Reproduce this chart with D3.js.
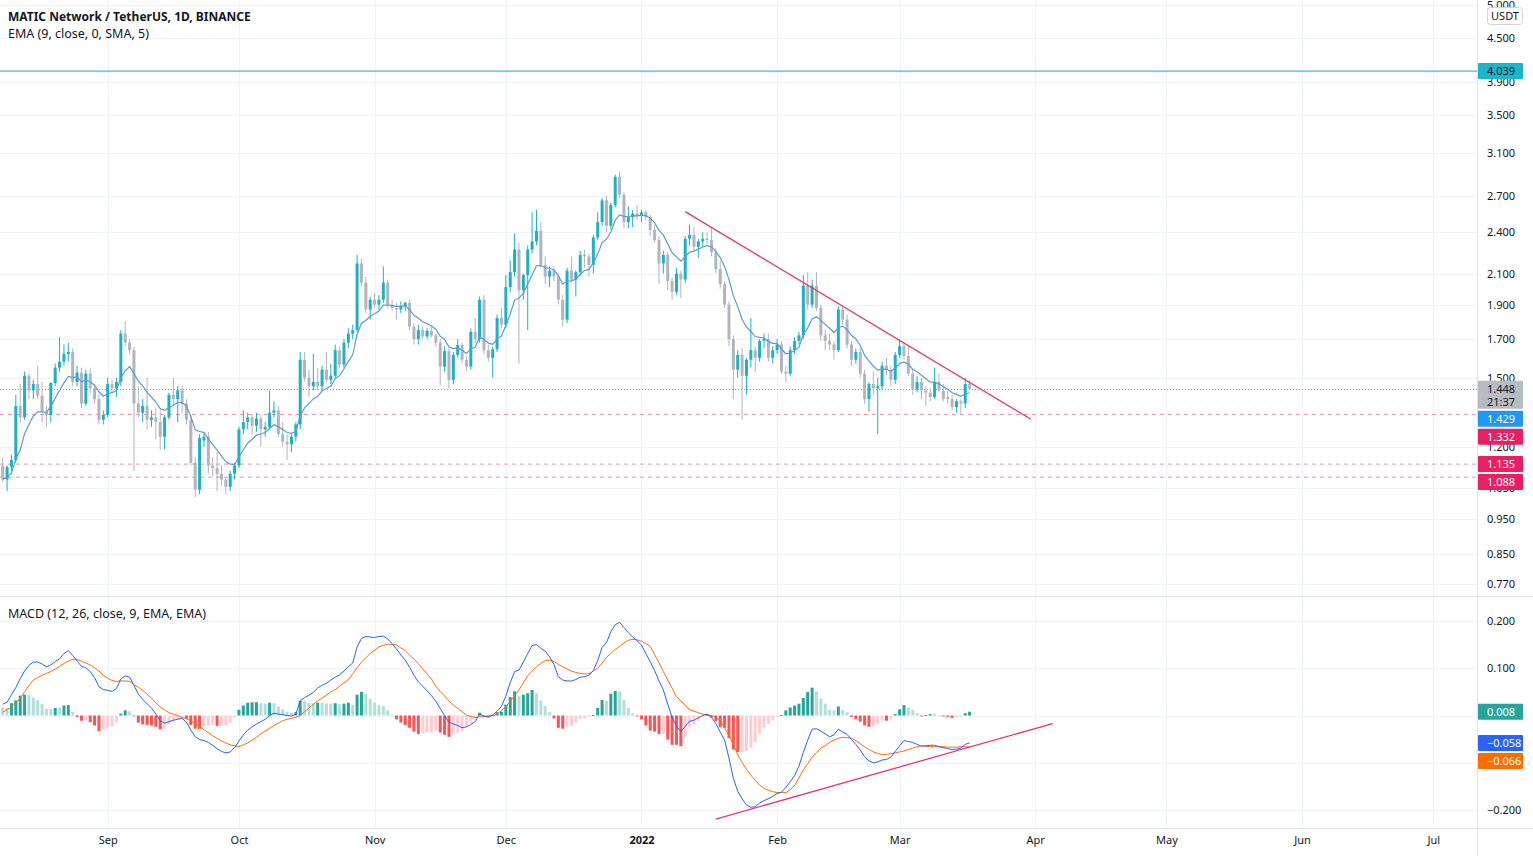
<!DOCTYPE html>
<html><head><meta charset="utf-8">
<script src="https://cdn.jsdelivr.net/npm/d3@7"></script>
<style>
html,body{margin:0;padding:0;background:#fff;overflow:hidden;}
svg{display:block;}
</style></head><body>
<svg id="chart" width="1533" height="856"></svg>
<script>
// ---------------- DATA ----------------
const startDate = "2021-08-08"; // first daily candle, one candle per day
const open = [
1.13,1.08,1.125,1.15,1.37,1.32,1.51,1.44,1.47,1.415,
1.345,1.33,1.475,1.55,1.58,1.62,1.63,1.48,1.525,1.38,
1.52,1.45,1.40,1.31,1.33,1.47,1.45,1.48,1.73,1.68,
1.64,1.38,1.34,1.37,1.31,1.32,1.30,1.24,1.32,1.42,
1.40,1.44,1.38,1.31,1.14,1.045,1.225,1.24,1.13,1.12,
1.10,1.08,1.055,1.10,1.13,1.27,1.30,1.32,1.285,1.315,
1.27,1.28,1.34,1.35,1.25,1.22,1.21,1.24,1.29,1.59,
1.50,1.46,1.48,1.46,1.54,1.49,1.51,1.64,1.565,1.68,
1.73,1.75,2.17,2.04,1.87,1.93,1.90,1.93,2.04,1.90,
1.88,1.87,1.89,1.91,1.77,1.70,1.75,1.715,1.745,1.72,
1.68,1.555,1.635,1.49,1.615,1.668,1.59,1.555,1.74,1.70,
1.93,1.64,1.60,1.645,1.82,1.78,2.01,2.11,2.27,1.99,
2.09,2.27,2.33,2.41,2.16,2.08,2.12,2.08,1.93,1.81,
2.12,2.06,2.11,2.23,2.22,2.16,2.36,2.48,2.66,2.45,
2.62,2.87,2.71,2.48,2.52,2.55,2.53,2.56,2.52,2.42,
2.34,2.17,2.23,2.05,1.98,2.10,2.06,2.35,2.38,2.29,
2.33,2.35,2.34,2.25,2.13,2.03,1.90,1.70,1.54,1.615,
1.51,1.59,1.64,1.60,1.69,1.70,1.60,1.64,1.67,1.53,
1.52,1.64,1.69,1.72,2.02,1.90,2.02,1.88,1.72,1.69,
1.67,1.64,1.87,1.81,1.67,1.59,1.63,1.52,1.40,1.47,
1.45,1.46,1.56,1.54,1.49,1.615,1.66,1.61,1.52,1.445,
1.48,1.44,1.43,1.41,1.48,1.44,1.41,1.40,1.365,1.39,
1.38,1.47];
const high = [
1.16,1.13,1.17,1.42,1.47,1.53,1.52,1.49,1.56,1.48,
1.37,1.48,1.57,1.71,1.67,1.68,1.65,1.56,1.55,1.54,
1.55,1.47,1.42,1.35,1.50,1.49,1.50,1.75,1.80,1.70,
1.66,1.46,1.40,1.50,1.35,1.36,1.35,1.33,1.43,1.50,
1.46,1.46,1.40,1.33,1.16,1.25,1.26,1.26,1.16,1.18,
1.13,1.09,1.11,1.14,1.28,1.35,1.34,1.33,1.34,1.33,
1.30,1.44,1.39,1.37,1.30,1.25,1.25,1.30,1.63,1.63,
1.54,1.62,1.55,1.56,1.63,1.57,1.67,1.66,1.70,1.76,
1.78,2.23,2.20,2.08,1.95,1.97,1.96,2.15,2.06,1.93,
1.91,1.92,1.92,1.93,1.79,1.78,1.77,1.76,1.77,1.73,
1.70,1.66,1.65,1.63,1.70,1.68,1.61,1.76,1.82,1.95,
1.96,1.67,1.66,1.84,1.88,2.09,2.19,2.39,2.32,2.10,
2.30,2.56,2.58,2.48,2.22,2.15,2.15,2.10,1.96,2.14,
2.22,2.12,2.26,2.27,2.24,2.38,2.56,2.68,2.70,2.64,
2.89,2.92,2.73,2.61,2.58,2.62,2.58,2.58,2.54,2.46,
2.37,2.26,2.25,2.07,2.14,2.12,2.37,2.46,2.44,2.35,
2.40,2.40,2.44,2.28,2.19,2.05,1.92,1.72,1.64,1.65,
1.60,1.82,1.66,1.70,1.73,1.73,1.66,1.70,1.69,1.56,
1.66,1.71,1.74,2.09,2.11,2.06,2.11,1.90,1.75,1.73,
1.69,1.89,1.89,1.84,1.69,1.65,1.65,1.54,1.48,1.53,
1.50,1.58,1.60,1.56,1.63,1.70,1.68,1.66,1.54,1.51,
1.50,1.46,1.45,1.55,1.52,1.47,1.44,1.42,1.40,1.40,
1.50,1.49];
const low = [
1.07,1.04,1.11,1.14,1.30,1.31,1.40,1.40,1.40,1.30,
1.28,1.30,1.46,1.53,1.56,1.58,1.46,1.46,1.36,1.37,
1.43,1.38,1.29,1.29,1.32,1.43,1.41,1.46,1.66,1.62,
1.11,1.32,1.30,1.27,1.28,1.23,1.19,1.19,1.31,1.37,
1.30,1.34,1.29,1.13,1.02,1.03,1.20,1.10,1.09,1.04,
1.06,1.03,1.04,1.08,1.12,1.25,1.27,1.25,1.26,1.20,
1.24,1.27,1.32,1.24,1.20,1.15,1.18,1.22,1.27,1.48,
1.41,1.44,1.44,1.44,1.48,1.47,1.50,1.55,1.55,1.65,
1.70,1.74,2.02,1.85,1.81,1.88,1.87,1.91,1.88,1.86,
1.81,1.85,1.86,1.75,1.67,1.67,1.70,1.70,1.71,1.66,
1.466,1.53,1.45,1.47,1.60,1.57,1.53,1.54,1.68,1.68,
1.62,1.58,1.50,1.63,1.76,1.76,1.98,2.08,1.57,1.93,
1.75,2.24,2.30,2.14,2.03,2.01,2.05,1.90,1.77,1.79,
2.04,1.95,2.08,2.14,2.08,2.10,2.34,2.45,2.40,2.42,
2.60,2.68,2.43,2.43,2.44,2.50,2.48,2.49,2.37,2.32,
2.03,2.10,1.99,1.93,1.96,1.94,2.04,2.30,2.26,2.21,
2.29,2.30,2.22,2.10,2.00,1.88,1.66,1.40,1.50,1.31,
1.42,1.55,1.53,1.58,1.65,1.58,1.57,1.62,1.52,1.48,
1.51,1.62,1.67,1.70,1.87,1.88,1.86,1.69,1.64,1.64,
1.59,1.63,1.78,1.65,1.56,1.57,1.50,1.38,1.345,1.42,
1.25,1.44,1.51,1.46,1.47,1.60,1.59,1.51,1.42,1.43,
1.40,1.37,1.39,1.40,1.43,1.39,1.38,1.35,1.34,1.33,
1.36,1.44];
const close = [
1.08,1.125,1.15,1.37,1.32,1.51,1.44,1.47,1.415,1.345,
1.33,1.475,1.55,1.58,1.62,1.63,1.48,1.525,1.38,1.52,
1.45,1.40,1.31,1.33,1.47,1.45,1.48,1.73,1.68,1.64,
1.38,1.34,1.37,1.31,1.32,1.30,1.24,1.32,1.42,1.40,
1.44,1.38,1.31,1.14,1.045,1.235,1.24,1.13,1.12,1.10,
1.08,1.055,1.10,1.13,1.27,1.30,1.32,1.285,1.315,1.27,
1.28,1.34,1.35,1.25,1.22,1.21,1.24,1.29,1.59,1.50,
1.46,1.48,1.46,1.54,1.49,1.51,1.64,1.565,1.68,1.73,
1.75,2.17,2.04,1.87,1.93,1.90,1.93,2.04,1.90,1.88,
1.87,1.89,1.91,1.77,1.70,1.75,1.715,1.745,1.72,1.68,
1.555,1.635,1.49,1.615,1.668,1.59,1.555,1.74,1.70,1.93,
1.64,1.60,1.645,1.82,1.78,2.01,2.11,2.27,1.99,2.09,
2.27,2.33,2.41,2.16,2.08,2.12,2.08,1.93,1.81,2.12,
2.06,2.11,2.23,2.22,2.16,2.36,2.48,2.66,2.45,2.62,
2.87,2.71,2.48,2.52,2.55,2.53,2.56,2.52,2.42,2.34,
2.17,2.23,2.05,1.98,2.10,2.06,2.35,2.38,2.29,2.33,
2.35,2.34,2.25,2.13,2.03,1.90,1.70,1.54,1.615,1.51,
1.59,1.64,1.60,1.69,1.70,1.60,1.64,1.67,1.53,1.52,
1.64,1.69,1.72,2.02,1.90,2.02,1.88,1.72,1.69,1.67,
1.64,1.87,1.81,1.67,1.59,1.63,1.52,1.40,1.47,1.45,
1.46,1.56,1.54,1.49,1.615,1.66,1.61,1.52,1.445,1.48,
1.44,1.43,1.41,1.48,1.44,1.40,1.40,1.365,1.39,1.38,
1.47,1.448];
const macdLine = [
.024,.028,.044,.059,.078,.094,.106,.113,.113,.109,
.103,.107,.114,.120,.131,.137,.127,.115,.104,.101,
.093,.080,.061,.055,.053,.051,.057,.077,.084,.081,
.064,.045,.034,.025,.016,.003,-.011,-.016,-.013,-.010,
-.008,-.006,-.014,-.031,-.045,-.051,-.053,-.057,-.063,-.070,
-.076,-.079,-.077,-.068,-.054,-.041,-.031,-.024,-.018,-.013,
-.008,.000,.005,.003,.002,.000,-.001,.003,.031,.038,
.043,.049,.058,.064,.068,.075,.081,.086,.094,.103,
.111,.145,.163,.167,.166,.165,.167,.168,.162,.152,
.141,.128,.117,.102,.085,.071,.062,.052,.042,.030,
.015,.000,-.014,-.018,-.021,-.026,-.024,-.019,-.013,.003,
-.001,-.004,.001,.009,.019,.041,.069,.093,.096,.113,
.131,.148,.150,.142,.136,.124,.108,.082,.075,.073,
.073,.076,.081,.082,.085,.095,.116,.144,.154,.177,
.192,.197,.186,.175,.166,.158,.149,.131,.114,.095,
.073,.054,.024,-.004,-.022,-.034,-.023,-.012,-.010,-.005,
.000,.003,-.004,-.017,-.035,-.052,-.090,-.133,-.160,-.176,
-.189,-.194,-.193,-.185,-.180,-.176,-.171,-.165,-.162,-.152,
-.140,-.127,-.107,-.078,-.052,-.029,-.028,-.033,-.039,-.045,
-.041,-.029,-.035,-.040,-.051,-.061,-.073,-.087,-.096,-.100,
-.098,-.094,-.093,-.088,-.076,-.064,-.053,-.055,-.057,-.061,
-.065,-.064,-.063,-.063,-.066,-.068,-.070,-.072,-.071,-.069,
-.061,-.058];
const signalLine = [
.007,.012,.018,.027,.036,.050,.063,.075,.080,.085,
.089,.093,.098,.104,.110,.115,.119,.118,.115,.111,
.107,.101,.094,.085,.079,.074,.072,.073,.073,.072,
.065,.060,.053,.045,.037,.027,.018,.012,.006,.003,
.000,-.004,-.007,-.011,-.017,-.023,-.030,-.036,-.043,-.048,
-.054,-.058,-.062,-.064,-.066,-.062,-.058,-.052,-.046,-.039,
-.033,-.027,-.021,-.016,-.011,-.008,-.006,-.004,.000,.008,
.016,.023,.031,.037,.043,.050,.055,.062,.069,.076,
.088,.101,.113,.122,.131,.138,.145,.148,.151,.150,
.149,.143,.137,.128,.119,.110,.099,.088,.077,.062,
.051,.041,.031,.022,.015,.008,.001,-.002,-.004,-.003,
-.002,-.001,.000,.002,.011,.018,.030,.042,.054,.069,
.084,.094,.103,.110,.116,.117,.114,.108,.103,.098,
.094,.091,.089,.088,.088,.094,.100,.111,.123,.131,
.140,.146,.153,.159,.161,.160,.157,.152,.146,.129,
.112,.093,.075,.058,.040,.031,.022,.012,.009,.006,
.003,.002,.000,-.005,-.010,-.026,-.042,-.061,-.083,-.099,
-.114,-.126,-.137,-.147,-.154,-.158,-.161,-.163,-.163,-.163,
-.157,-.148,-.132,-.115,-.102,-.088,-.079,-.069,-.064,-.057,
-.052,-.048,-.046,-.047,-.048,-.053,-.060,-.066,-.072,-.077,
-.080,-.083,-.082,-.081,-.079,-.077,-.075,-.072,-.069,-.066,
-.064,-.065,-.066,-.066,-.066,-.066,-.067,-.067,-.067,-.066,
-.066,-.066];
const priceTicks = [5.0, 4.5, 3.9, 3.5, 3.1, 2.7, 2.4, 2.1, 1.9, 1.7, 1.5, 1.2, 1.05, 0.95, 0.85, 0.77];
const macdTicks = [0.2, 0.1, -0.2];
const macdGrid = [0.2, 0.1, 0, -0.1, -0.2];
const supportLevels = [1.332, 1.135, 1.088];
const resistanceLevel = 4.039;
const priceTrend = [["2022-01-11", 2.565], ["2022-03-31", 1.312]];
const macdTrend = [["2022-01-18", -0.219], ["2022-04-05", -0.017]];
const monthTicks = ["2021-09-01","2021-10-01","2021-11-01","2021-12-01","2022-01-01","2022-02-01","2022-03-01","2022-04-01","2022-05-01","2022-06-01","2022-07-01"];
const monthLabels = ["Sep","Oct","Nov","Dec","2022","Feb","Mar","Apr","May","Jun","Jul"];
const countdown = "21:37";
const titleText = "MATIC Network / TetherUS, 1D, BINANCE";
const emaText = "EMA (9, close, 0, SMA, 5)";
const macdText = "MACD (12, 26, close, 9, EMA, EMA)";

// ---------------- LAYOUT ----------------
const W = 1533, H = 856;
const axisX = 1477;
const paneSplit = 596.5, bottomAxisY = 828.5;
const FONT = '"Noto Sans", "Open Sans", sans-serif';
const TXT = "#131722";
const UP = "#1DB1C4", DOWN = "#B2B5BE";

const parse = d3.utcParse("%Y-%m-%d");
const t0 = parse(startDate);
const dates = close.map((_, i) => d3.utcDay.offset(t0, i));

const x = d3.scaleUtc().domain([dates[0], dates[dates.length - 1]]).range([2.7, 969.6]);
const yP = d3.scaleLog().domain([0.75, 5]).range([592.4, 5]);
const yM = d3.scaleLinear().domain([-0.2, 0.2]).range([810.1, 620.9]);

// EMA(9) of close
const ema = [];
close.forEach((c, i) => { ema.push(i === 0 ? c : ema[i - 1] + (c - ema[i - 1]) * 2 / 10); });
const hist = macdLine.map((m, i) => m - signalLine[i]);

const svg = d3.select("#chart").style("font-family", FONT);
svg.append("rect").attr("width", W).attr("height", H).attr("fill", "#fff");

const defs = svg.append("defs");
defs.append("clipPath").attr("id", "clipP").append("rect").attr("x", 0).attr("y", 0).attr("width", axisX).attr("height", paneSplit);
defs.append("clipPath").attr("id", "clipM").append("rect").attr("x", 0).attr("y", paneSplit).attr("width", axisX).attr("height", bottomAxisY - paneSplit);

// ---------------- GRID ----------------
const grid = svg.append("g");
grid.selectAll("line.v").data(monthTicks.map(parse)).join("line")
  .attr("x1", d => Math.round(x(d)) + 0.5).attr("x2", d => Math.round(x(d)) + 0.5)
  .attr("y1", 0).attr("y2", bottomAxisY).attr("stroke", "#F0F3FA");
grid.selectAll("line.hp").data(priceTicks).join("line")
  .attr("x1", 0).attr("x2", axisX).attr("y1", d => Math.round(yP(d)) + 0.5).attr("y2", d => Math.round(yP(d)) + 0.5)
  .attr("stroke", "#F0F3FA");
grid.append("g").selectAll("line").data(macdGrid).join("line")
  .attr("x1", 0).attr("x2", axisX).attr("y1", d => Math.round(yM(d)) + 0.5).attr("y2", d => Math.round(yM(d)) + 0.5)
  .attr("stroke", "#F0F3FA");

// ---------------- PRICE PANE ----------------
const gP = svg.append("g").attr("clip-path", "url(#clipP)");

gP.append("line").attr("x1", 0).attr("x2", axisX).attr("y1", yP(resistanceLevel)).attr("y2", yP(resistanceLevel))
  .attr("stroke", "#17A9BE").attr("stroke-width", 1);
gP.selectAll("line.sup").data(supportLevels).join("line")
  .attr("x1", 0).attr("x2", axisX).attr("y1", d => yP(d)).attr("y2", d => yP(d))
  .attr("stroke", "#F48FB1").attr("stroke-width", 1).attr("stroke-dasharray", "4,4");
gP.append("line").attr("x1", 0).attr("x2", axisX)
  .attr("y1", Math.round(yP(close[close.length - 1])) + 0.5).attr("y2", Math.round(yP(close[close.length - 1])) + 0.5)
  .attr("stroke", "#9598A1").attr("stroke-dasharray", "1,2");

const candles = gP.append("g").selectAll("g").data(dates.map((d, i) => ({d, o: open[i], h: high[i], l: low[i], c: close[i]}))).join("g");
candles.append("line")
  .attr("x1", d => x(d.d)).attr("x2", d => x(d.d))
  .attr("y1", d => yP(d.h)).attr("y2", d => yP(d.l))
  .attr("stroke", d => d.c >= d.o ? UP : DOWN).attr("stroke-width", 1);
candles.append("rect")
  .attr("x", d => x(d.d) - 1.5).attr("width", 3)
  .attr("y", d => yP(Math.max(d.o, d.c)))
  .attr("height", d => Math.max(1, Math.abs(yP(d.o) - yP(d.c))))
  .attr("fill", d => d.c >= d.o ? UP : DOWN);

gP.append("path").datum(ema)
  .attr("d", d3.line().x((v, i) => x(dates[i])).y(v => yP(v)))
  .attr("fill", "none").attr("stroke", "#5A9BD8").attr("stroke-width", 1.2);

gP.append("path").datum(priceTrend)
  .attr("d", d3.line().x(d => x(parse(d[0]))).y(d => yP(d[1])))
  .attr("stroke", "#E6396F").attr("stroke-width", 1.3).attr("fill", "none");

// ---------------- MACD PANE ----------------
const gM = svg.append("g").attr("clip-path", "url(#clipM)");
const histColor = (v, i) => {
  const prev = i > 0 ? hist[i - 1] : v;
  if (v >= 0) return prev < v ? "#26A69A" : "#B2DFDB";
  return prev < v ? "#FFCDD2" : "#FF5252";
};
gM.append("g").selectAll("rect").data(hist).join("rect")
  .attr("x", (v, i) => x(dates[i]) - 1.5).attr("width", 3)
  .attr("y", v => Math.min(yM(0), yM(v)))
  .attr("height", v => Math.max(0.8, Math.abs(yM(v) - yM(0))))
  .attr("fill", histColor);
gM.append("path").datum(signalLine)
  .attr("d", d3.line().x((v, i) => x(dates[i])).y(v => yM(v)))
  .attr("fill", "none").attr("stroke", "#FF6D00").attr("stroke-width", 1);
gM.append("path").datum(macdLine)
  .attr("d", d3.line().x((v, i) => x(dates[i])).y(v => yM(v)))
  .attr("fill", "none").attr("stroke", "#2962FF").attr("stroke-width", 1);
gM.append("path").datum(macdTrend)
  .attr("d", d3.line().x(d => x(parse(d[0]))).y(d => yM(d[1])))
  .attr("stroke", "#E6396F").attr("stroke-width", 1.3).attr("fill", "none");

// ---------------- FRAME LINES ----------------
svg.append("line").attr("x1", 0).attr("x2", W).attr("y1", paneSplit).attr("y2", paneSplit).attr("stroke", "#E0E3EB");
svg.append("line").attr("x1", 0).attr("x2", W).attr("y1", bottomAxisY).attr("y2", bottomAxisY).attr("stroke", "#E0E3EB");
svg.append("line").attr("x1", axisX + 0.5).attr("x2", axisX + 0.5).attr("y1", 0).attr("y2", H).attr("stroke", "#E0E3EB");

// ---------------- AXES ----------------
const fmt3 = d3.format(".3f");
const axP = svg.append("g").attr("transform", `translate(${axisX},0)`)
  .call(d3.axisRight(yP).tickValues(priceTicks).tickFormat(fmt3).tickSize(0).tickPadding(10));
const axM = svg.append("g").attr("transform", `translate(${axisX},0)`)
  .call(d3.axisRight(yM).tickValues(macdTicks).tickFormat(fmt3).tickSize(0).tickPadding(10));
const axX = svg.append("g").attr("transform", `translate(0,${bottomAxisY})`)
  .call(d3.axisBottom(x).tickValues(monthTicks.map(parse)).tickFormat((d, i) => monthLabels[i]).tickSize(0).tickPadding(8));
[axP, axM, axX].forEach(a => {
  a.select(".domain").remove();
  a.selectAll("text").attr("fill", TXT).style("font-size", "11px").style("font-family", FONT);
});
axX.selectAll("text").filter((d, i) => monthLabels[i] === "2022").style("font-weight", "bold");

svg.append("rect").attr("x", 1487.5).attr("y", 7.5).attr("width", 35).attr("height", 17).attr("rx", 3)
  .attr("fill", "#fff").attr("stroke", "#D1D4DC");
svg.append("text").attr("x", 1505).attr("y", 19.5).attr("text-anchor", "middle")
  .attr("fill", TXT).style("font-size", "11px").text("USDT");

// ---------------- LAST VALUE LABELS ----------------
function drawLabels(items, scale) {
  items.forEach(it => { it.top = scale(it.v) - 8; });
  items.sort((a, b) => a.top - b.top);
  let prevBottom = -Infinity;
  items.forEach(it => {
    if (it.top < prevBottom + 2) it.top = prevBottom + 2;
    prevBottom = it.top + it.h;
  });
  const g = svg.append("g");
  items.forEach(it => {
    g.append("rect").attr("x", axisX + 1).attr("y", it.top).attr("width", 45).attr("height", it.h)
      .attr("rx", 1).attr("fill", it.fill);
    it.lines.forEach((t, k) => {
      g.append("text").attr("x", axisX + 10).attr("y", it.top + 12 + k * 13)
        .attr("fill", it.color).style("font-size", "11px").text(t);
    });
  });
}
const lastClose = close[close.length - 1];
drawLabels([
  {v: resistanceLevel, h: 16, fill: "#1DB5CA", color: TXT, lines: [fmt3(resistanceLevel)]},
  {v: lastClose, h: 28, fill: "#B8BBC2", color: TXT, lines: [fmt3(lastClose), countdown]},
  {v: ema[ema.length - 1], h: 16, fill: "#2196F3", color: "#fff", lines: [fmt3(ema[ema.length - 1])]},
  ...supportLevels.map(v => ({v, h: 16, fill: "#E91E63", color: "#fff", lines: [fmt3(v)]}))
], yP);
drawLabels([
  {v: hist[hist.length - 1], h: 16, fill: "#26A69A", color: "#fff", lines: [fmt3(hist[hist.length - 1])]},
  {v: macdLine[macdLine.length - 1], h: 16, fill: "#2962FF", color: "#fff", lines: [fmt3(macdLine[macdLine.length - 1])]},
  {v: signalLine[signalLine.length - 1], h: 16, fill: "#FF6D00", color: "#fff", lines: [fmt3(signalLine[signalLine.length - 1])]}
], yM);

// ---------------- LEGENDS ----------------
svg.append("text").attr("x", 8).attr("y", 21).attr("fill", TXT)
  .style("font-size", "12px").style("font-weight", "bold").text(titleText);
svg.append("text").attr("x", 8).attr("y", 38).attr("fill", TXT)
  .style("font-size", "12.5px").text(emaText);
svg.append("text").attr("x", 8).attr("y", 618).attr("fill", TXT)
  .style("font-size", "12.5px").text(macdText);
</script>
</body></html>
